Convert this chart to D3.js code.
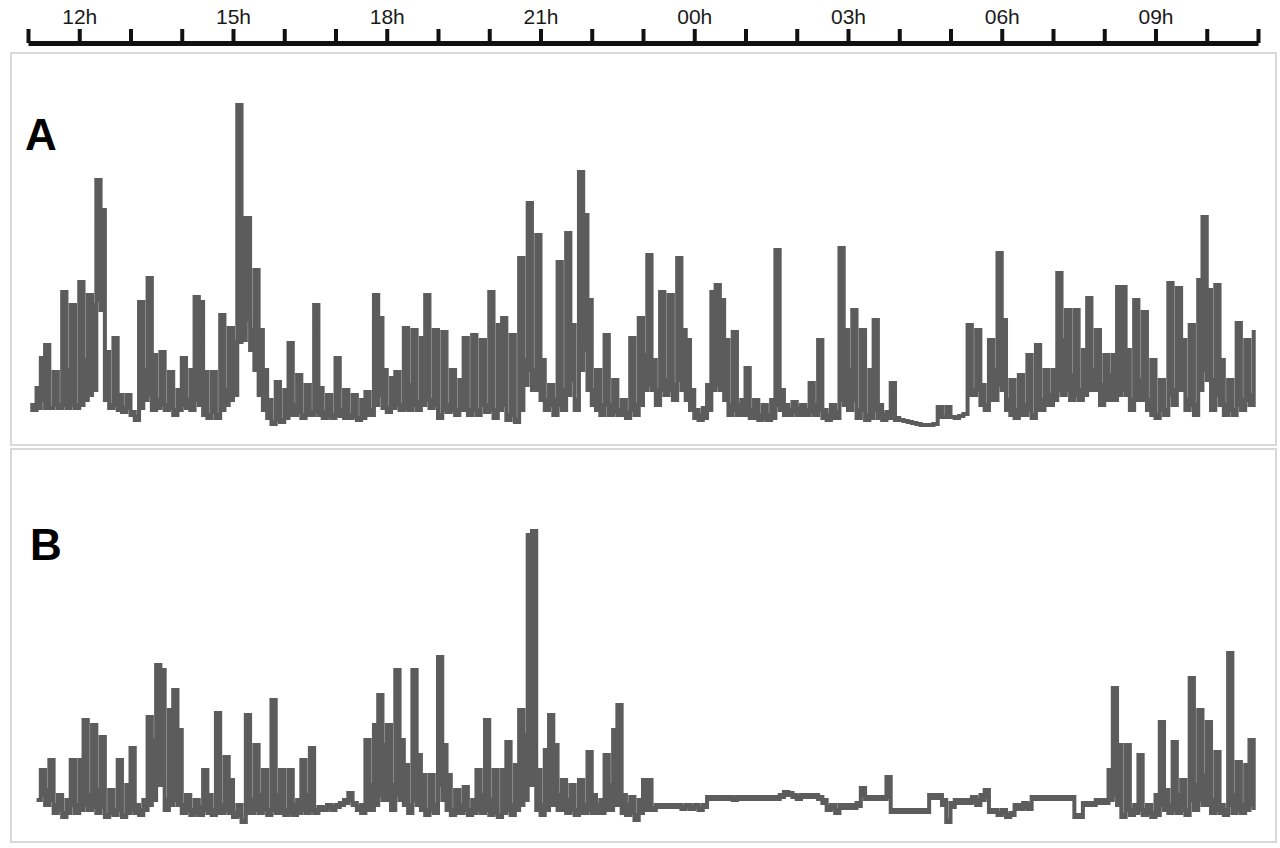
<!DOCTYPE html>
<html>
<head>
<meta charset="utf-8">
<script src="https://cdn.jsdelivr.net/npm/d3@7"></script>
<style>
  body { margin: 0; background: #fff; }
  .axis text { font-family: "Liberation Sans", Arial, sans-serif; font-size: 21px; fill: #1a1a1a; }
  .axis line { stroke: #111; stroke-width: 4; }
  .axis path { stroke: #111; stroke-width: 5; }
</style>
</head>
<body>
<div class="container"></div>
<script>

// activity counts in 5 minute bins from 11:00, upper and lower value of each bin
// (null = no record yet)
const seriesAHigh = [
  null,25,42,72,85,22,58,25,138,60,125,25,
  148,70,135,125,250,220,78,25,92,35,22,35,
  18,13,128,60,152,75,30,78,25,58,20,40,
  72,30,60,133,128,58,15,58,15,115,40,102,
  88,325,212,212,100,160,100,60,30,8,48,10,
  40,87,25,55,15,45,18,125,42,18,35,15,
  72,20,40,15,35,12,30,38,20,135,112,60,
  22,52,58,25,102,45,100,28,92,135,30,100,
  15,98,25,60,20,50,92,20,95,20,90,25,
  138,20,105,112,15,95,10,172,70,227,60,195,
  70,30,45,30,168,40,197,105,30,258,215,130,
  40,60,25,95,25,50,20,30,18,92,25,112,
  75,175,70,40,138,50,135,45,172,100,90,40,
  20,15,22,45,138,145,130,90,25,98,25,30,
  62,20,30,15,25,15,30,180,40,25,20,28,
  22,25,20,47,25,90,20,15,25,18,182,100,
  60,120,20,100,15,60,110,25,15,18,47,12,
  10,9,8,7,6,5,5,5,6,23,13,23,
  13,12,14,16,105,40,100,45,25,90,60,177,
  110,30,50,20,55,25,75,15,85,30,60,35,
  60,157,90,120,55,120,40,80,132,60,100,45,
  75,55,75,143,143,80,30,130,50,118,30,70,
  15,50,20,147,40,142,90,30,105,25,150,213,
  140,50,145,70,25,50,20,107,30,90,35,100
];

const seriesALow = [
  null,20,22,30,22,22,25,22,25,22,25,22,
  25,30,35,40,130,120,30,22,25,20,18,22,
  15,10,22,30,35,20,22,25,20,22,15,20,
  25,22,20,30,25,15,12,18,12,20,25,30,
  35,88,90,110,80,60,35,20,12,6,10,8,
  12,15,15,18,12,15,15,18,15,12,14,12,
  15,14,12,12,14,10,12,15,15,25,35,22,
  18,22,25,20,22,20,25,20,25,30,22,25,
  12,20,18,20,15,20,20,15,20,15,25,18,
  20,12,20,25,10,15,8,20,45,60,40,40,
  30,20,25,15,25,20,35,50,20,60,80,40,
  25,20,15,25,15,18,15,15,12,20,15,25,
  40,45,40,25,40,35,40,30,50,40,30,20,
  12,10,12,20,40,45,40,30,15,20,15,15,
  15,12,12,10,12,10,12,25,20,15,15,18,
  15,15,15,18,15,20,12,10,12,12,30,25,
  20,30,12,20,10,12,20,12,10,12,12,10,
  10,9,8,7,6,5,5,5,6,13,13,13,
  13,12,14,16,35,35,40,25,20,30,30,45,
  40,20,15,12,15,15,20,12,20,20,25,25,
  30,40,35,40,30,35,30,35,40,40,40,25,
  30,30,30,35,40,35,20,30,30,30,20,15,
  12,20,15,35,25,40,40,20,25,15,40,60,
  50,20,35,25,15,20,15,25,20,30,25,30
];

const seriesBHigh = [
  null,null,25,55,35,65,20,30,12,25,65,20,
  65,105,30,100,35,88,10,35,15,65,10,40,
  77,20,15,25,108,85,160,155,25,115,135,95,
  20,30,15,25,18,55,30,15,112,20,68,45,
  12,20,5,110,25,80,30,55,15,125,30,55,
  15,55,20,25,65,30,77,15,18,17,20,18,
  20,22,25,32,22,18,20,85,40,100,130,80,
  100,40,155,85,60,20,155,70,50,15,50,20,
  168,80,50,15,35,20,38,15,25,55,30,105,
  25,55,10,55,83,20,60,115,90,290,294,55,
  20,75,110,80,30,45,25,40,15,45,20,73,
  30,20,25,70,40,95,120,30,20,28,10,25,
  45,45,17,20,20,20,20,20,20,18,20,18,
  20,17,20,28,28,28,28,28,28,27,28,28,
  28,28,28,28,28,28,28,28,30,33,32,30,
  28,30,30,30,30,28,25,18,20,15,20,20,
  20,20,22,37,28,28,28,28,28,48,15,15,
  15,15,15,15,15,15,15,30,30,30,25,5,
  22,25,25,25,25,28,25,30,35,15,15,12,
  15,10,12,20,20,22,20,28,28,28,28,28,
  28,28,28,28,28,10,10,22,22,22,25,25,
  25,55,137,80,10,80,15,20,70,15,20,12,
  30,103,35,20,83,30,45,15,147,40,115,50,
  103,25,73,20,15,172,30,63,20,60,85,40
];

const seriesBLow = [
  null,null,25,30,20,25,12,15,8,12,20,12,
  15,20,15,18,12,18,8,12,10,15,8,12,
  15,12,10,15,20,25,40,40,15,20,25,20,
  12,15,10,12,10,15,12,10,12,12,15,12,
  8,10,3,12,12,15,12,15,10,15,12,12,
  10,12,10,12,15,12,15,12,15,15,17,15,
  18,20,22,25,20,15,12,15,15,20,30,25,
  25,15,30,25,20,12,25,20,15,10,15,12,
  40,25,15,10,12,12,15,10,12,15,12,15,
  10,12,8,12,15,10,15,20,25,40,40,15,
  10,15,20,20,15,15,12,15,10,12,12,15,
  12,12,12,15,15,20,20,12,10,12,5,12,
  15,15,15,18,18,18,18,18,18,16,18,16,
  18,15,18,26,26,26,26,26,26,25,26,26,
  26,26,26,26,26,26,26,26,28,30,30,28,
  26,28,28,28,28,26,22,15,17,12,17,17,
  17,17,19,30,26,26,26,26,26,28,13,13,
  13,13,13,13,13,13,13,27,27,27,20,3,
  18,22,22,22,22,24,20,25,28,13,13,10,
  12,8,10,16,16,18,16,26,26,26,26,26,
  26,26,26,26,26,8,8,20,20,20,22,22,
  22,25,30,20,8,15,10,12,15,10,12,8,
  10,20,15,12,15,12,15,10,25,15,25,20,
  20,12,15,12,10,20,12,15,12,15,20,15
];

const tickLabels = ['12h', '15h', '18h', '21h', '00h', '03h', '06h', '09h'];
const panelLabels = ['A', 'B'];

const width = 1280;
const height = 848;
const stepMinutes = 5;
const start = new Date(2000, 0, 1, 11, 0);
const end = new Date(2000, 0, 2, 11, 0);

const timeAt = i => new Date(+start + i * stepMinutes * 60000);

const svg = d3.select('.container')
  .append('svg')
  .attr('width', width)
  .attr('height', height)

const x = d3.scaleTime()
  .domain([start, end])
  .range([28, 1258]);

// top time axis, a tick every hour, a label every 3 hours
svg.append('g')
  .attr('class', 'axis')
  .attr('transform', 'translate(0,43)')
  .call(d3.axisTop(x)
    .ticks(d3.timeHour.every(1))
    .tickSize(14)
    .tickSizeOuter(0)
    .tickPadding(5)
    .tickFormat(d => {
      const h = Math.round((d - start) / 3600000);
      return (h % 3 === 1) ? tickLabels[(h - 1) / 3] : '';
    }));

const panels = [
  { hi: seriesAHigh, lo: seriesALow, top: 53, h: 392,
    y: d3.scaleLinear().domain([0, 330]).range([430, 100]), lx: 25, ly: 150 },
  { hi: seriesBHigh, lo: seriesBLow, top: 449, h: 393,
    y: d3.scaleLinear().domain([0, 330]).range([825, 495]), lx: 30, ly: 560 }
];

panels.forEach((p, k) => {
  svg.append('rect')
    .attr('x', 11)
    .attr('y', p.top)
    .attr('width', 1265)
    .attr('height', p.h)
    .attr('fill', 'none')
    .attr('stroke', '#d9d9d9')
    .attr('stroke-width', 2);

  const bins = p.hi.map((v, i) => ({ i: i, hi: v, lo: p.lo[i] }));

  const band = d3.area()
    .defined(d => d.hi != null)
    .x(d => x(timeAt(d.i)))
    .y0(d => p.y(Math.min(d.lo, d.hi)))
    .y1(d => p.y(d.hi))
    .curve(d3.curveStepAfter);

  svg.append('path')
    .datum(bins)
    .attr('d', band)
    .attr('fill', '#5c5c5c')
    .attr('stroke', '#5c5c5c')
    .attr('stroke-width', 4)
    .attr('stroke-linejoin', 'miter');

  svg.append('text')
    .attr('x', p.lx)
    .attr('y', p.ly)
    .attr('font-family', '"Liberation Sans", Arial, sans-serif')
    .attr('font-weight', 'bold')
    .attr('font-size', 44)
    .attr('fill', '#000')
    .text(panelLabels[k]);
});

</script>
</body>
</html>
